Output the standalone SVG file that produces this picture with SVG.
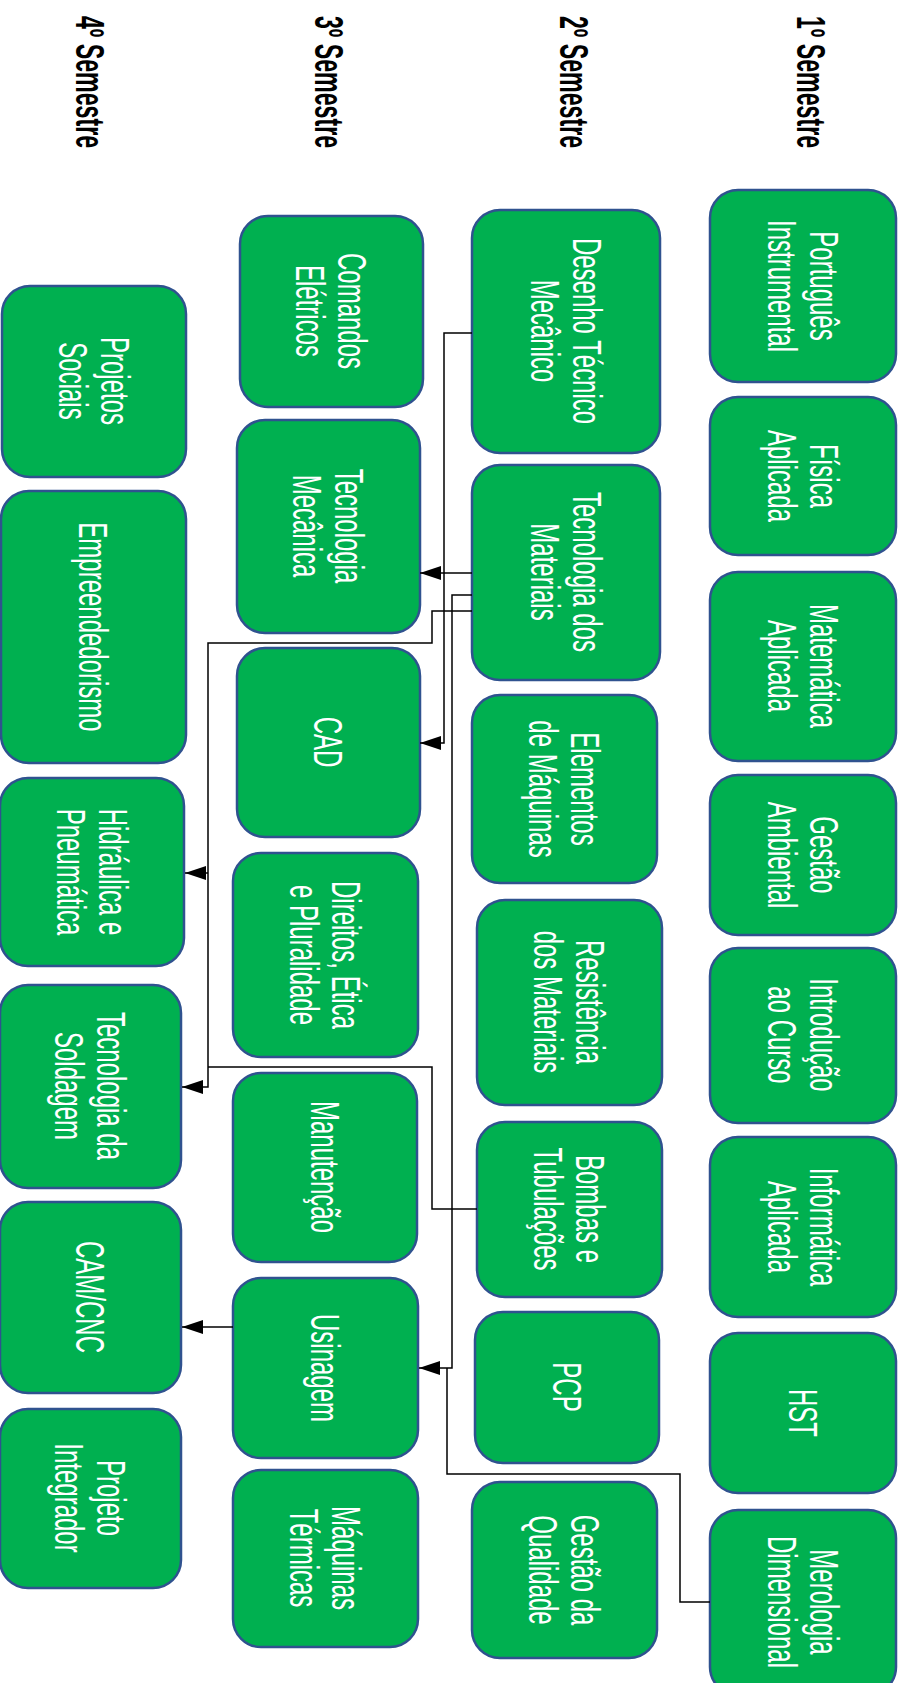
<svg xmlns="http://www.w3.org/2000/svg" width="905" height="1683" viewBox="0 0 905 1683">
<style>
.b{fill:#00b050;stroke:#2f528f;stroke-width:2.5}
.t{font-family:"Liberation Sans",Arial,sans-serif;font-size:40px;fill:#ffffff;text-anchor:middle}
.h{font-family:"Liberation Sans",Arial,sans-serif;font-size:40px;font-weight:bold;fill:#000000;text-anchor:middle}
.c{fill:none;stroke:#000000;stroke-width:1.5}
</style>
<defs>
<marker id="arr" markerUnits="userSpaceOnUse" markerWidth="21" markerHeight="14" refX="21" refY="7" orient="auto">
<path d="M0,0 L21,7 L0,14 z" fill="#000000"/>
</marker>
</defs>
<rect width="905" height="1683" fill="#ffffff"/>

<g id="headings">
<text class="h" transform="translate(811,82) rotate(90) scale(0.58,1)" y="14">1º Semestre</text>
<text class="h" transform="translate(574,82) rotate(90) scale(0.58,1)" y="14">2º Semestre</text>
<text class="h" transform="translate(329,82) rotate(90) scale(0.58,1)" y="14">3º Semestre</text>
<text class="h" transform="translate(90,82) rotate(90) scale(0.58,1)" y="14">4º Semestre</text>
</g>

<g id="portugues"><rect class="b" x="710" y="190" width="186" height="192" rx="28"/><text class="t" transform="translate(803,286) rotate(90) scale(0.6,1)"><tspan x="0" y="-7">Português</tspan><tspan x="0" y="35">Instrumental</tspan></text></g>
<g id="fisica"><rect class="b" x="710" y="397" width="186" height="158" rx="28"/><text class="t" transform="translate(803,476) rotate(90) scale(0.6,1)"><tspan x="0" y="-7">Física</tspan><tspan x="0" y="35">Aplicada</tspan></text></g>
<g id="matematica"><rect class="b" x="710" y="572" width="186" height="189" rx="28"/><text class="t" transform="translate(803,666) rotate(90) scale(0.6,1)"><tspan x="0" y="-7">Matemática</tspan><tspan x="0" y="35">Aplicada</tspan></text></g>
<g id="gestao-ambiental"><rect class="b" x="710" y="775" width="186" height="160" rx="28"/><text class="t" transform="translate(803,855) rotate(90) scale(0.6,1)"><tspan x="0" y="-7">Gestão</tspan><tspan x="0" y="35">Ambiental</tspan></text></g>
<g id="introducao"><rect class="b" x="710" y="948" width="186" height="175" rx="28"/><text class="t" transform="translate(803,1035) rotate(90) scale(0.6,1)"><tspan x="0" y="-7">Introdução</tspan><tspan x="0" y="35">ao Curso</tspan></text></g>
<g id="informatica"><rect class="b" x="710" y="1137" width="186" height="180" rx="28"/><text class="t" transform="translate(803,1227) rotate(90) scale(0.6,1)"><tspan x="0" y="-7">Informática</tspan><tspan x="0" y="35">Aplicada</tspan></text></g>
<g id="hst"><rect class="b" x="710" y="1333" width="186" height="160" rx="28"/><text class="t" transform="translate(803,1413) rotate(90) scale(0.6,1)"><tspan x="0" y="14">HST</tspan></text></g>
<g id="merologia"><rect class="b" x="710" y="1510" width="186" height="185" rx="28"/><text class="t" transform="translate(803,1602) rotate(90) scale(0.6,1)"><tspan x="0" y="-7">Merologia</tspan><tspan x="0" y="35">Dimensional</tspan></text></g>

<g id="desenho"><rect class="b" x="472" y="210" width="188" height="243" rx="28"/><text class="t" transform="translate(566,331) rotate(90) scale(0.6,1)"><tspan x="0" y="-7">Desenho Técnico</tspan><tspan x="0" y="35">Mecânico</tspan></text></g>
<g id="tec-materiais"><rect class="b" x="472" y="465" width="188" height="215" rx="28"/><text class="t" transform="translate(566,572) rotate(90) scale(0.6,1)"><tspan x="0" y="-7">Tecnologia dos</tspan><tspan x="0" y="35">Materiais</tspan></text></g>
<g id="elementos"><rect class="b" x="472" y="695" width="185" height="188" rx="28"/><text class="t" transform="translate(564,789) rotate(90) scale(0.6,1)"><tspan x="0" y="-7">Elementos</tspan><tspan x="0" y="35">de Máquinas</tspan></text></g>
<g id="resistencia"><rect class="b" x="477" y="900" width="185" height="205" rx="28"/><text class="t" transform="translate(569,1002) rotate(90) scale(0.6,1)"><tspan x="0" y="-7">Resistência</tspan><tspan x="0" y="35">dos Materiais</tspan></text></g>
<g id="bombas"><rect class="b" x="477" y="1122" width="185" height="175" rx="28"/><text class="t" transform="translate(569,1209) rotate(90) scale(0.6,1)"><tspan x="0" y="-7">Bombas e</tspan><tspan x="0" y="35">Tubulações</tspan></text></g>
<g id="pcp"><rect class="b" x="475" y="1312" width="184" height="151" rx="28"/><text class="t" transform="translate(567,1387) rotate(90) scale(0.6,1)"><tspan x="0" y="14">PCP</tspan></text></g>
<g id="gestao-qualidade"><rect class="b" x="472" y="1482" width="185" height="176" rx="28"/><text class="t" transform="translate(564,1570) rotate(90) scale(0.6,1)"><tspan x="0" y="-7">Gestão da</tspan><tspan x="0" y="35">Qualidade</tspan></text></g>

<g id="comandos"><rect class="b" x="240" y="216" width="183" height="191" rx="28"/><text class="t" transform="translate(331,311) rotate(90) scale(0.6,1)"><tspan x="0" y="-7">Comandos</tspan><tspan x="0" y="35">Elétricos</tspan></text></g>
<g id="tec-mecanica"><rect class="b" x="237" y="420" width="183" height="213" rx="28"/><text class="t" transform="translate(328,526) rotate(90) scale(0.6,1)"><tspan x="0" y="-7">Tecnologia</tspan><tspan x="0" y="35">Mecânica</tspan></text></g>
<g id="cad"><rect class="b" x="237" y="648" width="183" height="189" rx="28"/><text class="t" transform="translate(328,742) rotate(90) scale(0.6,1)"><tspan x="0" y="14">CAD</tspan></text></g>
<g id="direitos"><rect class="b" x="233" y="853" width="185" height="204" rx="28"/><text class="t" transform="translate(325,955) rotate(90) scale(0.6,1)"><tspan x="0" y="-7">Direitos, Ética</tspan><tspan x="0" y="35">e Pluralidade</tspan></text></g>
<g id="manutencao"><rect class="b" x="233" y="1073" width="184" height="189" rx="28"/><text class="t" transform="translate(325,1167) rotate(90) scale(0.6,1)"><tspan x="0" y="14">Manutenção</tspan></text></g>
<g id="usinagem"><rect class="b" x="233" y="1278" width="185" height="180" rx="28"/><text class="t" transform="translate(325,1368) rotate(90) scale(0.6,1)"><tspan x="0" y="14">Usinagem</tspan></text></g>
<g id="maquinas-termicas"><rect class="b" x="233" y="1470" width="185" height="177" rx="28"/><text class="t" transform="translate(325,1558) rotate(90) scale(0.6,1)"><tspan x="0" y="-7">Máquinas</tspan><tspan x="0" y="35">Térmicas</tspan></text></g>

<g id="projetos-sociais"><rect class="b" x="2" y="286" width="184" height="191" rx="28"/><text class="t" transform="translate(94,381) rotate(90) scale(0.6,1)"><tspan x="0" y="-7">Projetos</tspan><tspan x="0" y="35">Sociais</tspan></text></g>
<g id="empreendedorismo"><rect class="b" x="1" y="491" width="185" height="272" rx="28"/><text class="t" transform="translate(93,627) rotate(90) scale(0.6,1)"><tspan x="0" y="14">Empreendedorismo</tspan></text></g>
<g id="hidraulica"><rect class="b" x="0" y="778" width="184" height="188" rx="28"/><text class="t" transform="translate(92,872) rotate(90) scale(0.6,1)"><tspan x="0" y="-7">Hidráulica e</tspan><tspan x="0" y="35">Pneumática</tspan></text></g>
<g id="soldagem"><rect class="b" x="0" y="985" width="181" height="203" rx="28"/><text class="t" transform="translate(90,1086) rotate(90) scale(0.6,1)"><tspan x="0" y="-7">Tecnologia da</tspan><tspan x="0" y="35">Soldagem</tspan></text></g>
<g id="cam-cnc"><rect class="b" x="0" y="1202" width="181" height="191" rx="28"/><text class="t" transform="translate(90,1297) rotate(90) scale(0.6,1)"><tspan x="0" y="14">CAM/CNC</tspan></text></g>
<g id="projeto-integrador"><rect class="b" x="0" y="1409" width="181" height="179" rx="28"/><text class="t" transform="translate(90,1498) rotate(90) scale(0.6,1)"><tspan x="0" y="-7">Projeto</tspan><tspan x="0" y="35">Integrador</tspan></text></g>

<g id="connectors">
<path class="c" d="M472,333 H444 V743 H420" marker-end="url(#arr)"/>
<path class="c" d="M472,573 H420" marker-end="url(#arr)"/>
<path class="c" d="M472,595 H452 V1368 H419" marker-end="url(#arr)"/>
<path class="c" d="M710,1602 H680 V1474 H447 V1368"/>
<path class="c" d="M472,611 H432 V643 H208 V1087 H182" marker-end="url(#arr)"/>
<path class="c" d="M208,873 H185" marker-end="url(#arr)"/>
<path class="c" d="M477,1209 H432 V1067 H208"/>
<path class="c" d="M233,1327 H182" marker-end="url(#arr)"/>
</g>
</svg>
